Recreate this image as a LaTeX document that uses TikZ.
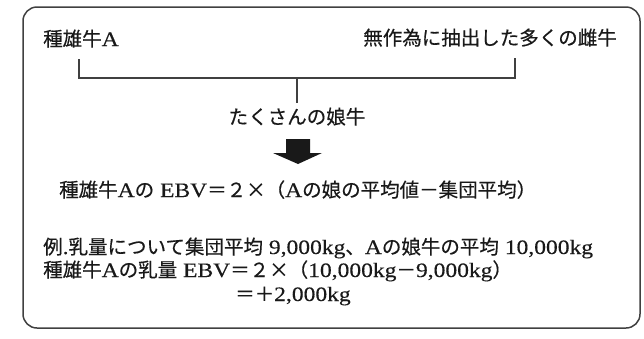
\documentclass[tikz,border=0pt]{standalone}
\usepackage{fontspec}
\setmainfont{Liberation Serif}[FakeStretch=1.15,Scale=1.05,FakeBold=0.3]
\newfontfamily\jp{Noto Sans CJK JP}[FakeBold=0.4]
\definecolor{ink}{gray}{0.1}
\definecolor{frame}{gray}{0.25}
\begin{document}
\begin{tikzpicture}[x=1pt,y=-1pt,
  txt/.style={inner sep=0pt,text=ink,font=\fontsize{19.5}{23}\selectfont},
  link/.style={draw=frame,line width=1.2pt},
  outer/.style={draw=frame,line width=1.5pt,rounded corners=14pt}]
\useasboundingbox (0,0) rectangle (644,338);
\draw[outer] (23,7) rectangle (640,328);
% texts
\node[txt,anchor=base west] (sire) at (43,46) {{\jp 種雄牛}A};
\node[txt,anchor=base east] (dams) at (617,45) {{\jp 無作為に抽出した多くの雌牛}};
\node[txt,anchor=base] (daught) at (297,124) {{\jp たくさんの娘牛}};
\node[txt,anchor=base west] (ebv) at (59,197) {{\jp 種雄牛}A{\jp の} EBV{\jp ＝２×（}A{\jp の娘の平均値－集団平均）}};
\node[txt,anchor=base west] (ex1) at (43,254) {{\jp 例}.{\jp 乳量について集団平均} 9,000kg{\jp 、}A{\jp の娘牛の平均} 10,000kg};
\node[txt,anchor=base west] (ex2) at (43,277) {{\jp 種雄牛}A{\jp の乳量} EBV{\jp ＝２×（}10,000kg{\jp －}9,000kg{\jp ）}};
\node[txt,anchor=base west] (ex3) at (235,301) {{\jp ＝＋}2,000kg};
% bracket
\coordinate (bl) at (79,59);
\coordinate (br) at (515,58);
\coordinate (bm) at (297,78);
\coordinate (stem) at (297,103);
\draw[link] (bl) |- (bm) -| (br);
\draw[link] (bm) -- (stem);
% block arrow
\fill[ink] (286,139) -- (310,139) -- (310,153) -- (322,153) -- (298,164) -- (273,153) -- (286,153) -- cycle;
\end{tikzpicture}
\end{document}
